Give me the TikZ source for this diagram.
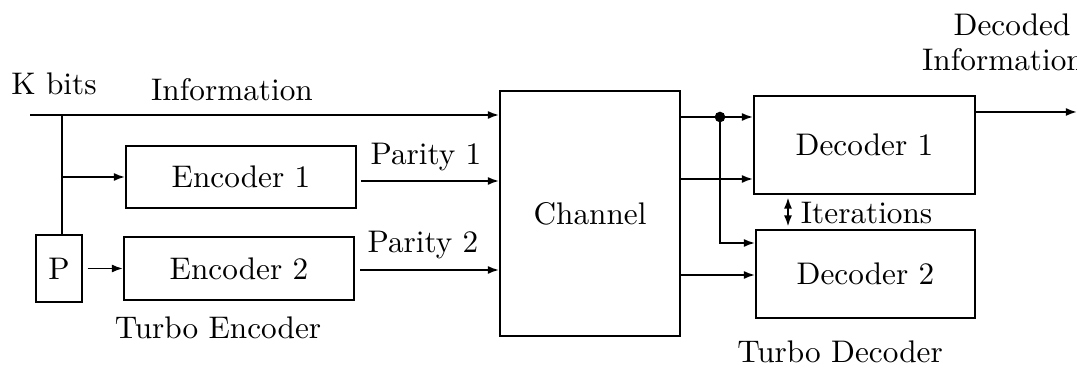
\documentclass[tikz,border=0pt]{standalone}
\usetikzlibrary{arrows.meta}
\begin{document}
\begin{tikzpicture}[x=0.32pt,y=-0.32pt,
  line width=0.6pt,
  >={Latex[length=3.6pt,width=2.6pt]},
  blockbox/.style={draw,rectangle,inner sep=0pt},
  lbl/.style={inner sep=0pt}]
\clip (0,0) rectangle (1077,368);
\useasboundingbox (0,0) rectangle (1077,368);

% encoder side
\node[blockbox,minimum width=230*0.32pt,minimum height=62*0.32pt] (enc1) at (241,177) {Encoder 1};
\node[blockbox,minimum width=230*0.32pt,minimum height=63*0.32pt] (enc2) at (239,268.5) {Encoder 2};
\node[blockbox,minimum width=46*0.32pt,minimum height=67*0.32pt] (P) at (59,268.5) {P};
\node[lbl] (kbits) at (54,84) {K bits};
\node[lbl] (info) at (232,90) {Information};
\node[lbl] (tenc) at (218,328) {Turbo Encoder};

% channel
\node[blockbox,minimum width=180*0.32pt,minimum height=245*0.32pt] (ch) at (590,213.5) {Channel};

% decoder side
\node[blockbox,minimum width=221*0.32pt,minimum height=98*0.32pt] (dec1) at (864.5,145) {Decoder 1};
\node[blockbox,minimum width=219*0.32pt,minimum height=88*0.32pt] (dec2) at (865.5,274) {Decoder 2};
\node[lbl] (tdec) at (840,352) {Turbo Decoder};
\node[lbl] (dec) at (1012,25) {Decoded};
\node[lbl] (decinfo) at (1003,60) {Information};

% information path and branch
\coordinate (kin) at (30,115);
\coordinate (br) at (62,115);
\draw[->] (kin) -- (kin -| ch.west);
\draw (br) -- (br |- P.north);
\draw[->] (br |- enc1.west) -- (enc1.west);
\draw[->,shorten <=1.5pt] (P.east) -- (enc2.west);

% parity outputs
\coordinate (p1) at (361,181);
\coordinate (p2) at (360,270);
\draw[->] (p1) -- (p1 -| ch.west);
\draw[->] (p2) -- (p2 -| ch.west);
\node[lbl] (par1) at (426,157) {Parity 1};
\node[lbl] (par2) at (423,245) {Parity 2};

% channel outputs to the decoders
\coordinate (o1) at (680,117);
\coordinate (o2) at (680,179);
\coordinate (o3) at (680,275);
\coordinate (tap) at (720,117);
\coordinate (t2) at (720,243);
\draw[->] (o1) -- (o1 -| dec1.west);
\draw[->] (o2) -- (o2 -| dec1.west);
\draw[->] (o3) -- (o3 -| dec2.west);
\draw[->] (tap) -- (t2) -- (t2 -| dec2.west);
\fill (tap) circle (1.7pt);

% iterations between decoders
\coordinate (it) at (788,0);
\draw[<->,shorten <=0.8pt,shorten >=0.8pt] (it |- dec1.south) -- (it |- dec2.north);
\node[lbl,anchor=west] (iter) at (800,213) {Iterations};

% decoded output
\coordinate (out) at (975,112);
\coordinate (outend) at (1077,112);
\draw[->] (out) -- (outend);
\end{tikzpicture}
\end{document}
